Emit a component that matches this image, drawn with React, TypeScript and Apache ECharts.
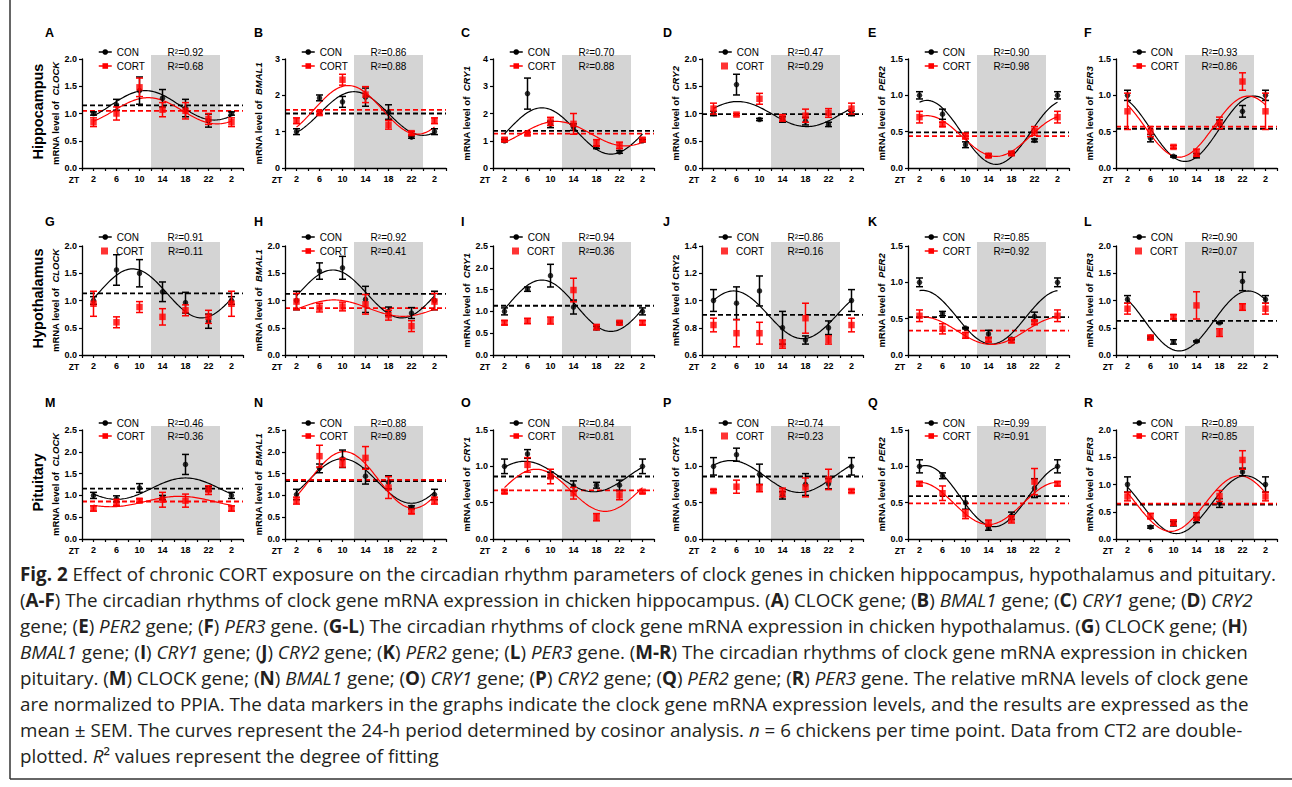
import React, { useEffect, useRef } from 'react';
import * as echarts from 'echarts';

// ---------- data ----------
const ZT_POINTS = [2, 6, 10, 14, 18, 22, 26];
const ZT_TICK_LABELS = ['2', '6', '10', '14', '18', '22', '2'];
const PANEL_LETTERS = ['A', 'B', 'C', 'D', 'E', 'F', 'G', 'H', 'I', 'J', 'K', 'L', 'M', 'N', 'O', 'P', 'Q', 'R'];
const GENES = ['CLOCK', 'BMAL1', 'CRY1', 'CRY2', 'PER2', 'PER3'];
const REGIONS = ['Hippocampus', 'Hypothalamus', 'Pituitary'];
const PLAIN_GENE_PANELS = ['J'];
const DARK_PHASE = [12, 24];

const Y_MIN = [0, 0, 0, 0, 0, 0, 0, 0, 0, 0.6, 0, 0, 0, 0, 0, 0, 0, 0];
const Y_MAX = [2, 3, 4, 2, 1.5, 1.5, 2, 2, 2.5, 1.4, 1.5, 2, 2.5, 2.5, 1.5, 1.5, 1.5, 2];
const Y_STEP = [0.5, 1, 1, 0.5, 0.5, 0.5, 0.5, 0.5, 0.5, 0.2, 0.5, 0.5, 0.5, 0.5, 0.5, 0.5, 0.5, 0.5];
const Y_DECIMALS = [1, 0, 0, 1, 1, 1, 1, 1, 1, 1, 1, 1, 1, 1, 1, 1, 1, 1];

const hippocampusCON = [
  [1.0, 1.16, 1.42, 1.28, 1.1, 0.87, 1.0],
  [1.0, 1.93, 1.82, 1.95, 1.54, 0.85, 1.0],
  [1.0, 2.73, 1.6, 1.5, 0.76, 0.59, 1.0],
  [1.0, 1.53, 0.89, 0.89, 0.86, 0.8, 1.0],
  [1.0, 0.74, 0.32, 0.17, 0.2, 0.38, 1.0],
  [1.0, 0.41, 0.16, 0.17, 0.6, 0.78, 1.0],
];
const hippocampusCONsem = [
  [0.03, 0.1, 0.25, 0.16, 0.16, 0.12, 0.03],
  [0.08, 0.08, 0.15, 0.25, 0.2, 0.03, 0.08],
  [0.04, 0.57, 0.12, 0.12, 0.05, 0.05, 0.04],
  [0.04, 0.19, 0.02, 0.05, 0.07, 0.04, 0.04],
  [0.05, 0.07, 0.04, 0.02, 0.02, 0.02, 0.05],
  [0.07, 0.05, 0.01, 0.03, 0.06, 0.08, 0.07],
];
const hippocampusCORT = [
  [0.84, 1.0, 1.48, 1.07, 1.05, 0.9, 0.84],
  [1.3, 1.51, 2.43, 2.02, 1.19, 0.96, 1.3],
  [1.04, 1.26, 1.71, 1.62, 0.92, 0.83, 1.04],
  [1.09, 0.98, 1.27, 0.92, 0.96, 1.01, 1.09],
  [0.7, 0.6, 0.44, 0.17, 0.2, 0.51, 0.7],
  [0.78, 0.5, 0.29, 0.21, 0.62, 1.19, 0.78],
];
const hippocampusCORTsem = [
  [0.08, 0.12, 0.17, 0.13, 0.15, 0.1, 0.08],
  [0.08, 0.05, 0.15, 0.22, 0.12, 0.05, 0.08],
  [0.06, 0.05, 0.15, 0.38, 0.12, 0.12, 0.06],
  [0.1, 0.02, 0.1, 0.06, 0.12, 0.08, 0.1],
  [0.08, 0.03, 0.04, 0.02, 0.02, 0.06, 0.08],
  [0.25, 0.07, 0.02, 0.05, 0.08, 0.12, 0.25],
];

const hypothalamusCON = [
  [1.0, 1.56, 1.5, 1.16, 0.96, 0.62, 1.0],
  [1.0, 1.54, 1.6, 1.02, 0.8, 0.77, 1.0],
  [1.0, 1.51, 1.82, 1.1, 0.62, 0.73, 1.0],
  [1.0, 0.98, 1.07, 0.8, 0.71, 0.8, 1.0],
  [1.0, 0.57, 0.37, 0.29, 0.22, 0.53, 1.0],
  [1.02, 0.33, 0.24, 0.25, 0.59, 1.35, 1.02],
];
const hypothalamusCONsem = [
  [0.07, 0.28, 0.25, 0.18, 0.19, 0.13, 0.07],
  [0.17, 0.15, 0.21, 0.24, 0.08, 0.1, 0.17],
  [0.08, 0.05, 0.26, 0.16, 0.04, 0.03, 0.08],
  [0.08, 0.12, 0.11, 0.12, 0.03, 0.05, 0.08],
  [0.06, 0.03, 0.01, 0.05, 0.01, 0.06, 0.06],
  [0.07, 0.02, 0.04, 0.01, 0.01, 0.17, 0.07],
];
const hypothalamusCORT = [
  [0.94, 0.6, 0.88, 0.7, 0.82, 0.7, 0.94],
  [0.98, 0.87, 0.89, 0.93, 0.73, 0.53, 0.98],
  [0.74, 0.78, 0.79, 1.49, 0.64, 0.74, 0.74],
  [0.82, 0.76, 0.76, 0.68, 0.87, 0.71, 0.82],
  [0.54, 0.36, 0.27, 0.21, 0.2, 0.45, 0.54],
  [0.85, 0.32, 0.7, 0.91, 0.41, 0.88, 0.85],
];
const hypothalamusCORTsem = [
  [0.23, 0.1, 0.1, 0.15, 0.1, 0.12, 0.23],
  [0.15, 0.08, 0.08, 0.18, 0.09, 0.1, 0.15],
  [0.05, 0.06, 0.08, 0.27, 0.06, 0.04, 0.05],
  [0.05, 0.1, 0.08, 0.03, 0.11, 0.03, 0.05],
  [0.08, 0.07, 0.04, 0.03, 0.03, 0.03, 0.08],
  [0.1, 0.04, 0.04, 0.25, 0.07, 0.06, 0.1],
];

const pituitaryCON = [
  [1.0, 0.92, 1.17, 0.95, 1.71, 1.15, 1.0],
  [1.02, 1.62, 1.84, 1.44, 1.3, 0.73, 1.02],
  [1.0, 1.17, 0.88, 0.73, 0.74, 0.74, 1.0],
  [1.0, 1.16, 0.89, 0.6, 0.75, 0.76, 1.0],
  [1.0, 0.87, 0.5, 0.15, 0.32, 0.7, 1.0],
  [1.0, 0.22, 0.28, 0.35, 0.66, 1.23, 1.0],
];
const pituitaryCONsem = [
  [0.07, 0.07, 0.1, 0.05, 0.23, 0.05, 0.07],
  [0.12, 0.1, 0.2, 0.18, 0.15, 0.03, 0.12],
  [0.1, 0.06, 0.04, 0.07, 0.04, 0.07, 0.1],
  [0.12, 0.09, 0.14, 0.05, 0.15, 0.07, 0.12],
  [0.09, 0.04, 0.09, 0.03, 0.05, 0.13, 0.09],
  [0.14, 0.02, 0.04, 0.05, 0.08, 0.07, 0.14],
];
const pituitaryCORT = [
  [0.7, 0.84, 0.88, 0.9, 0.88, 1.12, 0.7],
  [0.88, 1.9, 1.75, 1.86, 1.18, 0.63, 0.88],
  [0.65, 1.02, 0.86, 0.63, 0.3, 0.6, 0.65],
  [0.66, 0.72, 0.7, 0.64, 0.71, 0.82, 0.66],
  [0.76, 0.63, 0.34, 0.22, 0.27, 0.79, 0.76],
  [0.78, 0.42, 0.3, 0.41, 0.79, 1.45, 0.78],
];
const pituitaryCORTsem = [
  [0.06, 0.07, 0.04, 0.17, 0.15, 0.1, 0.06],
  [0.08, 0.25, 0.1, 0.26, 0.25, 0.05, 0.08],
  [0.02, 0.1, 0.1, 0.08, 0.05, 0.06, 0.02],
  [0.02, 0.09, 0.05, 0.06, 0.13, 0.14, 0.02],
  [0.03, 0.1, 0.06, 0.04, 0.05, 0.18, 0.03],
  [0.08, 0.05, 0.05, 0.07, 0.1, 0.17, 0.08],
];

// cosinor fit parameters (mesor = dashed line)
const CON_MESOR = [1.15, 1.5, 1.36, 0.99, 0.49, 0.54, 1.13, 1.12, 1.13, 0.895, 0.52, 0.625, 1.155, 1.33, 0.86, 0.86, 0.59, 0.63];
const CON_AMPLITUDE = [0.27, 0.6, 0.85, 0.23, 0.44, 0.45, 0.45, 0.44, 0.59, 0.175, 0.37, 0.55, 0.245, 0.51, 0.21, 0.22, 0.42, 0.53];
const CON_ACROPHASE = [11, 12, 8.5, 6.2, 3.3, 24, 8.8, 8.3, 8.5, 5.5, 2.5, 23, 18, 10, 5.5, 5, 3, 22.5];
const CORT_MESOR = [1.05, 1.6, 1.26, null, 0.44, 0.57, null, 0.86, null, null, 0.335, null, 0.86, 1.355, 0.67, null, 0.49, 0.65];
const CORT_AMPLITUDE = [0.24, 0.67, 0.45, null, 0.28, 0.42, null, 0.15, null, null, 0.19, null, 0.12, 0.65, 0.29, null, 0.29, 0.51];
const CORT_ACROPHASE = [11.5, 11, 11, null, 3.3, 23, null, 8.5, null, null, 2.5, null, 17, 10.3, 7.5, null, 2, 21.5];

const R2_CON = ['0.92', '0.86', '0.70', '0.47', '0.90', '0.93', '0.91', '0.92', '0.94', '0.86', '0.85', '0.90', '0.46', '0.88', '0.84', '0.74', '0.99', '0.89'];
const R2_CORT = ['0.68', '0.88', '0.88', '0.29', '0.98', '0.86', '0.11', '0.41', '0.36', '0.16', '0.92', '0.07', '0.36', '0.89', '0.81', '0.23', '0.91', '0.85'];

const CAPTION_LINES: [string, string][][] = [
  [['b', 'Fig. 2'], ['n', ' Effect of chronic CORT exposure on the circadian rhythm parameters of clock genes in chicken hippocampus, hypothalamus and pituitary.']],
  [['n', '('], ['b', 'A-F'], ['n', ') The circadian rhythms of clock gene mRNA expression in chicken hippocampus. ('], ['b', 'A'], ['n', ') CLOCK gene; ('], ['b', 'B'], ['n', ') '], ['i', 'BMAL1'], ['n', ' gene; ('], ['b', 'C'], ['n', ') '], ['i', 'CRY1'], ['n', ' gene; ('], ['b', 'D'], ['n', ') '], ['i', 'CRY2']],
  [['n', 'gene; ('], ['b', 'E'], ['n', ') '], ['i', 'PER2'], ['n', ' gene; ('], ['b', 'F'], ['n', ') '], ['i', 'PER3'], ['n', ' gene. ('], ['b', 'G-L'], ['n', ') The circadian rhythms of clock gene mRNA expression in chicken hypothalamus. ('], ['b', 'G'], ['n', ') CLOCK gene; ('], ['b', 'H'], ['n', ')']],
  [['i', 'BMAL1'], ['n', ' gene; ('], ['b', 'I'], ['n', ') '], ['i', 'CRY1'], ['n', ' gene; ('], ['b', 'J'], ['n', ') '], ['i', 'CRY2'], ['n', ' gene; ('], ['b', 'K'], ['n', ') '], ['i', 'PER2'], ['n', ' gene; ('], ['b', 'L'], ['n', ') '], ['i', 'PER3'], ['n', ' gene. ('], ['b', 'M-R'], ['n', ') The circadian rhythms of clock gene mRNA expression in chicken']],
  [['n', 'pituitary. ('], ['b', 'M'], ['n', ') CLOCK gene; ('], ['b', 'N'], ['n', ') '], ['i', 'BMAL1'], ['n', ' gene; ('], ['b', 'O'], ['n', ') '], ['i', 'CRY1'], ['n', ' gene; ('], ['b', 'P'], ['n', ') '], ['i', 'CRY2'], ['n', ' gene; ('], ['b', 'Q'], ['n', ') '], ['i', 'PER2'], ['n', ' gene; ('], ['b', 'R'], ['n', ') '], ['i', 'PER3'], ['n', ' gene. The relative mRNA levels of clock gene']],
  [['n', 'are normalized to PPIA. The data markers in the graphs indicate the clock gene mRNA expression levels, and the results are expressed as the']],
  [['n', 'mean ± SEM. The curves represent the 24-h period determined by cosinor analysis. '], ['i', 'n'], ['n', ' = 6 chickens per time point. Data from CT2 are double-']],
  [['n', 'plotted. '], ['i', 'R'], ['n', '² values represent the degree of fitting']],
];

// ---------- layout / style ----------
const COL_X = [82, 285, 493, 702, 908, 1116];
const ROW_TOP = [59, 246, 430];
const PLOT_W = 161;
const PLOT_H = 109;
const SHADE_EXTRA = 4;
const LETTER_X = [45, 254, 461, 663, 868, 1084];
const LETTER_Y = [33, 222, 403];
const LEGEND_Y = [[52, 66], [237, 251], [423, 436]];
const CAPTION_TOP = 574;
const CAPTION_STEP = 26;
const CAPTION_SIZE = 18.8;
const FONT = '"Liberation Sans", Arial, sans-serif';
const CAPTION_FONT = '"Open Sans", "Liberation Sans", sans-serif';
const CAPTION_COLOR = '#231f20';
const BLACK = '#000000';
const RED = '#ff0000';
const SHADE = '#d4d4d4';

const CON_ROWS = [hippocampusCON, hypothalamusCON, pituitaryCON];
const CON_SEM_ROWS = [hippocampusCONsem, hypothalamusCONsem, pituitaryCONsem];
const CORT_ROWS = [hippocampusCORT, hypothalamusCORT, pituitaryCORT];
const CORT_SEM_ROWS = [hippocampusCORTsem, hypothalamusCORTsem, pituitaryCORTsem];

function cosinor(m: number, a: number, p: number) {
  const pts: number[][] = [];
  for (let t = 2; t <= 26.0001; t += 0.25) {
    pts.push([t, m + a * Math.cos((2 * Math.PI * (t - p)) / 24)]);
  }
  return pts;
}

function errorBarSeries(i: number, mean: number[], sem: number[], color: string, z: number) {
  return {
    type: 'custom',
    xAxisIndex: i,
    yAxisIndex: i,
    z,
    silent: true,
    encode: { x: 0, y: 1 },
    data: ZT_POINTS.map((x, k) => [x, mean[k], sem[k]]),
    renderItem: (_p: any, api: any) => {
      const x = api.value(0);
      const m = api.value(1);
      const e = api.value(2);
      const top = api.coord([x, m + e]);
      const bot = api.coord([x, m - e]);
      const cap = 3.5;
      const st = { stroke: color, lineWidth: 1.5 };
      return {
        type: 'group',
        children: [
          { type: 'line', shape: { x1: top[0], y1: top[1], x2: bot[0], y2: bot[1] }, style: st },
          { type: 'line', shape: { x1: top[0] - cap, y1: top[1], x2: top[0] + cap, y2: top[1] }, style: st },
          { type: 'line', shape: { x1: bot[0] - cap, y1: bot[1], x2: bot[0] + cap, y2: bot[1] }, style: st },
        ],
      };
    },
  };
}

function buildOption() {
  const grids: any[] = [];
  const xAxes: any[] = [];
  const yAxes: any[] = [];
  const series: any[] = [];
  const legends: any[] = [];
  const graphics: any[] = [];
  const N = 18;

  for (let i = 0; i < N; i++) {
    const row = Math.floor(i / 6);
    const col = i % 6;
    grids.push({ left: COL_X[col], top: ROW_TOP[row], width: PLOT_W, height: PLOT_H });
  }
  for (let i = 0; i < N; i++) {
    const row = Math.floor(i / 6);
    const col = i % 6;
    grids.push({ left: COL_X[col], top: ROW_TOP[row] - SHADE_EXTRA, width: PLOT_W, height: PLOT_H + SHADE_EXTRA });
  }

  for (let i = 0; i < N; i++) {
    const col = i % 6;
    const letter = PANEL_LETTERS[i];
    const gene = GENES[col];
    const plain = PLAIN_GENE_PANELS.includes(letter);

    xAxes.push({
      gridIndex: i,
      type: 'value',
      min: 0,
      max: 28,
      interval: 2,
      z: 10,
      axisLine: { show: true, onZero: false, lineStyle: { color: BLACK, width: 1.3 } },
      axisTick: { show: true, length: 3, lineStyle: { color: BLACK, width: 1.2 } },
      splitLine: { show: false },
      axisLabel: {
        margin: 6,
        fontSize: 9,
        fontWeight: 'bold',
        fontFamily: FONT,
        color: BLACK,
        formatter: (v: number) => {
          const k = ZT_POINTS.indexOf(v);
          return k >= 0 ? ZT_TICK_LABELS[k] : '';
        },
      },
    });
    yAxes.push({
      gridIndex: i,
      type: 'value',
      min: Y_MIN[i],
      max: Y_MAX[i],
      interval: Y_STEP[i],
      z: 10,
      axisLine: { show: true, lineStyle: { color: BLACK, width: 1.3 } },
      axisTick: { show: true, length: 3, lineStyle: { color: BLACK, width: 1.2 } },
      splitLine: { show: false },
      axisLabel: {
        margin: 5,
        fontSize: 9,
        fontWeight: 'bold',
        fontFamily: FONT,
        color: BLACK,
        formatter: (v: number) => v.toFixed(Y_DECIMALS[i]),
      },
      name: plain ? `{n|mRNA level of ${gene}}` : `{n|mRNA level of  }{g|${gene}}`,
      nameLocation: 'middle',
      nameGap: 22,
      nameRotate: 90,
      nameTextStyle: {
        rich: {
          n: { fontSize: 9.5, fontWeight: 'bold', fontFamily: FONT, color: BLACK },
          g: { fontSize: 9.5, fontWeight: 'bold', fontStyle: 'italic', fontFamily: FONT, color: BLACK },
        },
      },
    });
  }
  for (let i = 0; i < N; i++) {
    xAxes.push({ gridIndex: N + i, type: 'value', min: 0, max: 28, show: false });
    yAxes.push({ gridIndex: N + i, type: 'value', min: 0, max: 1, show: false });
  }

  for (let i = 0; i < N; i++) {
    const row = Math.floor(i / 6);
    const col = i % 6;
    const letter = PANEL_LETTERS[i];
    const conName = `CON__${letter}`;
    const cortName = `CORT__${letter}`;
    const cortFitted = CORT_MESOR[i] !== null;

    // dark phase shading
    series.push({
      type: 'custom',
      xAxisIndex: N + i,
      yAxisIndex: N + i,
      z: 1,
      silent: true,
      encode: { x: [0, 1] },
      data: [DARK_PHASE],
      renderItem: (_p: any, api: any) => {
        const a = api.coord([api.value(0), 1]);
        const b = api.coord([api.value(1), 0]);
        return { type: 'rect', shape: { x: a[0], y: a[1], width: b[0] - a[0], height: b[1] - a[1] }, style: { fill: SHADE } };
      },
    });

    // mesor dashed lines
    const mesors: [number, string][] = [[CON_MESOR[i], BLACK]];
    if (cortFitted) mesors.push([CORT_MESOR[i] as number, RED]);
    mesors.forEach(([m, c]) => {
      series.push({
        type: 'line',
        xAxisIndex: i,
        yAxisIndex: i,
        z: 2,
        silent: true,
        symbol: 'none',
        data: [[0, m], [28, m]],
        lineStyle: { color: c, width: 1.8, type: [5, 3] },
      });
    });

    // fitted curves
    series.push({
      name: conName,
      type: 'line',
      xAxisIndex: i,
      yAxisIndex: i,
      z: 3,
      silent: true,
      symbol: 'circle',
      symbolSize: 6,
      showSymbol: false,
      data: cosinor(CON_MESOR[i], CON_AMPLITUDE[i], CON_ACROPHASE[i]),
      lineStyle: { color: BLACK, width: 1.2 },
      itemStyle: { color: BLACK },
    });
    if (cortFitted) {
      series.push({
        name: cortName,
        type: 'line',
        xAxisIndex: i,
        yAxisIndex: i,
        z: 3,
        silent: true,
        symbol: 'rect',
        symbolSize: 6,
        showSymbol: false,
        data: cosinor(CORT_MESOR[i] as number, CORT_AMPLITUDE[i] as number, CORT_ACROPHASE[i] as number),
        lineStyle: { color: RED, width: 1.2 },
        itemStyle: { color: RED },
      });
    }

    const con = CON_ROWS[row][col];
    const conSem = CON_SEM_ROWS[row][col];
    const cort = CORT_ROWS[row][col];
    const cortSem = CORT_SEM_ROWS[row][col];

    series.push(errorBarSeries(i, con, conSem, BLACK, 4));
    series.push({
      type: 'scatter',
      xAxisIndex: i,
      yAxisIndex: i,
      z: 5,
      silent: true,
      symbol: 'circle',
      symbolSize: 5.5,
      data: ZT_POINTS.map((x, k) => [x, con[k]]),
      itemStyle: { color: BLACK },
    });
    series.push(errorBarSeries(i, cort, cortSem, RED, 6));
    series.push({
      name: cortFitted ? undefined : cortName,
      type: 'scatter',
      xAxisIndex: i,
      yAxisIndex: i,
      z: 7,
      silent: true,
      symbol: 'rect',
      symbolSize: 6.5,
      data: ZT_POINTS.map((x, k) => [x, cort[k]]),
      itemStyle: { color: RED },
    });

    // legends
    const [cy1, cy2] = LEGEND_Y[row];
    const legendText = { fontSize: 10, color: BLACK, fontFamily: FONT, lineHeight: 12 };
    legends.push({
      data: [conName],
      left: COL_X[col] + 16,
      top: cy1 - 6,
      padding: 0,
      itemWidth: 13,
      itemHeight: 7,
      selectedMode: false,
      formatter: (n: string) => n.split('__')[0],
      textStyle: legendText,
      lineStyle: { width: 1.5 },
    });
    legends.push(
      cortFitted
        ? {
            data: [cortName],
            left: COL_X[col] + 16,
            top: cy2 - 6,
            padding: 0,
            itemWidth: 13,
            itemHeight: 7,
            selectedMode: false,
            formatter: (n: string) => n.split('__')[0],
            textStyle: legendText,
            lineStyle: { width: 1.5 },
          }
        : {
            data: [cortName],
            left: COL_X[col] + 19,
            top: cy2 - 6,
            padding: 0,
            itemWidth: 7,
            itemHeight: 7,
            selectedMode: false,
            formatter: (n: string) => n.split('__')[0],
            textStyle: { ...legendText, padding: [0, 0, 0, 3] },
          }
    );

    // R² labels
    const rx = COL_X[col] + 103.5;
    graphics.push({ type: 'text', z: 100, x: rx, y: cy1, style: { text: `R²=${R2_CON[i]}`, align: 'center', verticalAlign: 'middle', fontSize: 10, fontFamily: FONT, fill: BLACK } });
    graphics.push({ type: 'text', z: 100, x: rx, y: cy2, style: { text: `R²=${R2_CORT[i]}`, align: 'center', verticalAlign: 'middle', fontSize: 10, fontFamily: FONT, fill: BLACK } });

    // panel letter
    graphics.push({ type: 'text', z: 100, x: LETTER_X[col], y: LETTER_Y[row], style: { text: letter, verticalAlign: 'middle', fontSize: 12.5, fontWeight: 'bold', fontFamily: FONT, fill: BLACK } });

    // ZT label
    graphics.push({ type: 'text', z: 100, x: COL_X[col] - 8, y: ROW_TOP[row] + PLOT_H + 12, style: { text: 'ZT', align: 'center', verticalAlign: 'middle', fontSize: 8.5, fontWeight: 'bold', fontFamily: FONT, fill: BLACK } });
  }

  // region labels
  REGIONS.forEach((r, k) => {
    graphics.push({
      type: 'text',
      z: 100,
      x: 38,
      y: ROW_TOP[k] + PLOT_H / 2 - 2,
      rotation: Math.PI / 2,
      style: { text: r, align: 'center', verticalAlign: 'middle', fontSize: 14.5, fontWeight: 'bold', fontFamily: FONT, fill: BLACK },
    });
  });

  // caption
  const capRich = {
    n: { fontSize: CAPTION_SIZE, fontFamily: CAPTION_FONT, fill: CAPTION_COLOR },
    b: { fontSize: CAPTION_SIZE, fontFamily: CAPTION_FONT, fontWeight: 'bold', fill: CAPTION_COLOR },
    i: { fontSize: CAPTION_SIZE, fontFamily: CAPTION_FONT, fontStyle: 'italic', fill: CAPTION_COLOR },
  };
  CAPTION_LINES.forEach((line, k) => {
    graphics.push({
      type: 'text',
      z: 100,
      x: 20,
      y: CAPTION_TOP + k * CAPTION_STEP,
      style: {
        text: line.map(([s, t]) => `{${s}|${t}}`).join(''),
        rich: capRich,
        fontSize: CAPTION_SIZE,
        fontFamily: CAPTION_FONT,
        fill: CAPTION_COLOR,
        verticalAlign: 'middle',
      },
    });
  });

  // frame
  graphics.push({ type: 'line', z: 100, shape: { x1: 10, y1: 0, x2: 10, y2: 779 }, style: { stroke: '#333333', lineWidth: 1.5 } });
  graphics.push({ type: 'line', z: 100, shape: { x1: 10, y1: 779, x2: 1292, y2: 779 }, style: { stroke: '#333333', lineWidth: 1.5 } });

  return {
    animation: false,
    backgroundColor: '#ffffff',
    grid: grids,
    xAxis: xAxes,
    yAxis: yAxes,
    legend: legends,
    series,
    graphic: graphics,
  };
}

export default function App() {
  const ref = useRef<HTMLDivElement>(null);
  useEffect(() => {
    if (!ref.current) return;
    const chart = echarts.init(ref.current, undefined, { renderer: 'svg' });
    chart.setOption(buildOption() as any);
    return () => chart.dispose();
  }, []);
  return (
    <div
      ref={ref}
      style={{ position: 'absolute', left: 0, top: 0, width: 1292, height: 787, background: '#fff' }}
    />
  );
}
